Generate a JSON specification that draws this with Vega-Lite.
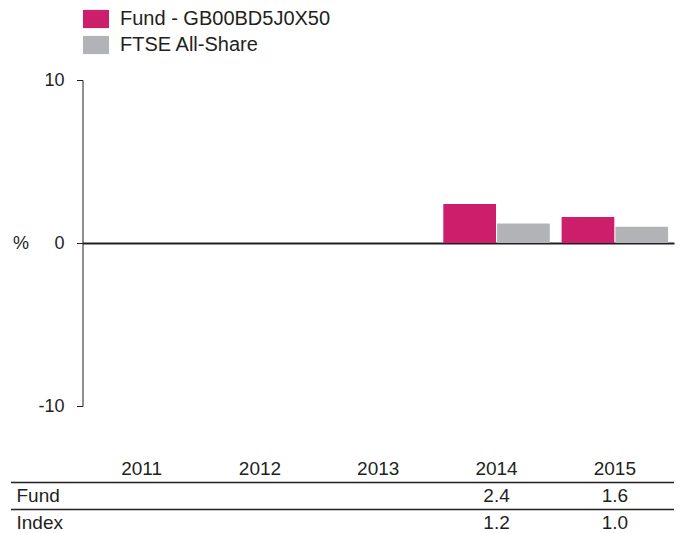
{
  "$schema": "https://vega.github.io/schema/vega-lite/v6.json",
  "padding": {"left": 10, "top": 6, "right": 0, "bottom": 0},
  "background": "white",
  "config": {
    "font": "Liberation Sans",
    "view": {"stroke": null},
    "axis": {"labelColor": "#231f20", "titleColor": "#231f20", "domainColor": "#231f20", "tickColor": "#231f20", "grid": false},
    "concat": {"spacing": 49.5}
  },
  "bounds": "flush",
  "vconcat": [
    {
      "width": 663,
      "height": 326,
      "data": {
        "values": [
          {"year": "2014", "series": "Fund - GB00BD5J0X50", "value": 2.4},
          {"year": "2014", "series": "FTSE All-Share", "value": 1.2},
          {"year": "2015", "series": "Fund - GB00BD5J0X50", "value": 1.6},
          {"year": "2015", "series": "FTSE All-Share", "value": 1.0}
        ]
      },
      "mark": {"type": "bar"},
      "encoding": {
        "x": {
          "field": "year",
          "type": "nominal",
          "scale": {"domain": ["2011", "2012", "2013", "2014", "2015"], "range": [71.5, 663], "paddingInner": 0.1, "paddingOuter": 0.05},
          "axis": {"orient": "bottom", "offset": -163, "labels": false, "ticks": false, "title": null, "domainWidth": 2, "domainColor": "#231f20"}
        },
        "xOffset": {
          "field": "series",
          "type": "nominal",
          "scale": {"domain": ["Fund - GB00BD5J0X50", "FTSE All-Share"], "paddingInner": 0.02}
        },
        "y": {
          "field": "value",
          "type": "quantitative",
          "scale": {"domain": [-10, 10], "nice": false},
          "axis": {
            "values": [-10, 0, 10],
            "labelExpr": "datum.value < 0 ? '-' + abs(datum.value) : '' + datum.value",
            "offset": -71.5,
            "tickSize": 6,
            "labelPadding": 12.5,
            "labelFontSize": 18,
            "title": "%",
            "titleAngle": 0,
            "titleAlign": "center",
            "titleBaseline": "middle",
            "titleFontSize": 18,
            "titleFontWeight": "normal",
            "titleX": -62,
            "titleY": 163
          }
        },
        "color": {
          "field": "series",
          "type": "nominal",
          "scale": {"domain": ["Fund - GB00BD5J0X50", "FTSE All-Share"], "range": ["#CC1E6A", "#B1B3B6"]},
          "legend": {
            "title": null,
            "orient": "none",
            "legendX": 72,
            "legendY": -74,
            "direction": "vertical",
            "symbolType": "M-1,-0.7H1V0.7H-1Z",
            "symbolSize": 676,
            "symbolStrokeWidth": 0,
            "labelFontSize": 20,
            "labelLimit": 400,
            "labelColor": "#231f20",
            "labelOffset": 11,
            "rowPadding": 3,
            "padding": 0
          }
        }
      }
    },
    {
      "width": 663,
      "height": 81,
      "encoding": {
        "y": {
          "field": "row",
          "type": "nominal",
          "scale": {"domain": ["Year", "Fund", "Index"], "paddingInner": 0, "paddingOuter": 0},
          "axis": {
            "orient": "left",
            "title": null,
            "domain": false,
            "ticks": false,
            "labelAlign": "left",
            "labelPadding": -5,
            "labelFontSize": 19,
            "labelColor": "#231f20",
            "labelBound": false,
            "labelOverlap": false,
            "labelExpr": "datum.value === 'Year' ? '' : datum.value"
          }
        }
      },
      "layer": [
        {
          "data": {"values": [{"row": "Fund"}, {"row": "Index"}]},
          "mark": {"type": "rule", "color": "#231f20", "strokeWidth": 1.5},
          "encoding": {
            "y": {"field": "row", "type": "nominal", "bandPosition": 0}
          }
        },
        {
          "data": {
            "values": [
              {"row": "Year", "year": "2011", "text": "2011"},
              {"row": "Year", "year": "2012", "text": "2012"},
              {"row": "Year", "year": "2013", "text": "2013"},
              {"row": "Year", "year": "2014", "text": "2014"},
              {"row": "Year", "year": "2015", "text": "2015"},
              {"row": "Fund", "year": "2014", "text": "2.4"},
              {"row": "Fund", "year": "2015", "text": "1.6"},
              {"row": "Index", "year": "2014", "text": "1.2"},
              {"row": "Index", "year": "2015", "text": "1.0"}
            ]
          },
          "mark": {"type": "text", "fontSize": 19, "color": "#231f20", "baseline": "middle", "align": "center"},
          "encoding": {
            "x": {
              "field": "year",
              "type": "nominal",
              "scale": {"domain": ["2011", "2012", "2013", "2014", "2015"], "range": [71.5, 663], "paddingInner": 0.1, "paddingOuter": 0.05},
              "axis": null
            },
            "text": {"field": "text", "type": "nominal"}
          }
        }
      ]
    }
  ]
}
